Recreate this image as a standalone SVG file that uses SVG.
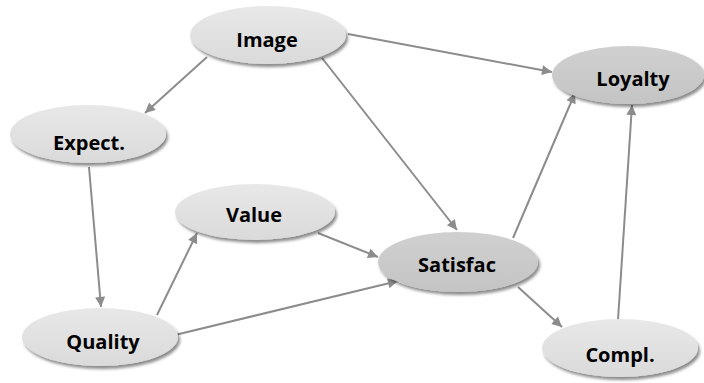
<svg xmlns="http://www.w3.org/2000/svg" width="704" height="383" viewBox="0 0 704 383">
<style>
.light{fill:url(#gl)}
.dark{fill:url(#gd)}
.node ellipse{filter:url(#sh)}
.node text{font-family:"Open Sans","Liberation Sans",Arial,sans-serif;font-weight:bold;font-size:20px;fill:#000;text-anchor:middle;dominant-baseline:central}
.edge{stroke:#8c8c8c;stroke-width:2;fill:none;marker-end:url(#ah)}
</style>
<defs>
<linearGradient id="gl" x1="0" y1="0" x2="0" y2="1">
<stop offset="0" stop-color="#e8e8e8"/><stop offset="1" stop-color="#dadada"/>
</linearGradient>
<linearGradient id="gd" x1="0" y1="0" x2="0" y2="1">
<stop offset="0" stop-color="#d0d0d0"/><stop offset="1" stop-color="#c4c4c4"/>
</linearGradient>
<filter id="sh" x="-20%" y="-30%" width="140%" height="170%">
<feDropShadow dx="2" dy="3" stdDeviation="1.8" flood-color="#000" flood-opacity="0.45"/>
</filter>
<marker id="ah" viewBox="0 0 10 10" refX="10" refY="5" markerWidth="6" markerHeight="5" markerUnits="strokeWidth" orient="auto">
<path d="M0,0 L10,5 L0,10 z" fill="#8c8c8c"/>
</marker>
</defs>
<g id="connectors">
<line class="edge" x1="207" y1="57" x2="145" y2="113"/>
<line class="edge" x1="348" y1="34" x2="552" y2="72"/>
<line class="edge" x1="322" y1="58" x2="457" y2="230"/>
<line class="edge" x1="89" y1="167" x2="101" y2="307"/>
<line class="edge" x1="157" y1="315" x2="197" y2="233"/>
<line class="edge" x1="175" y1="335" x2="398" y2="281"/>
<line class="edge" x1="318" y1="233" x2="378" y2="257"/>
<line class="edge" x1="513" y1="238" x2="575" y2="93"/>
<line class="edge" x1="518" y1="287" x2="562" y2="327"/>
<line class="edge" x1="618" y1="320" x2="632" y2="105"/>
</g>
<g id="node-image" class="node"><ellipse class="light" cx="268" cy="35" rx="78" ry="29"/><text x="267" y="39">Image</text></g>
<g id="node-loyalty" class="node"><ellipse class="dark" cx="628" cy="75" rx="76" ry="29"/><text x="633" y="78">Loyalty</text></g>
<g id="node-expect" class="node"><ellipse class="light" cx="88" cy="134" rx="78" ry="29"/><text x="89" y="142">Expect.</text></g>
<g id="node-value" class="node"><ellipse class="light" cx="255" cy="212" rx="80" ry="28"/><text x="254" y="214">Value</text></g>
<g id="node-satisfac" class="node"><ellipse class="dark" cx="458" cy="262" rx="80" ry="30"/><text x="457" y="264">Satisfac</text></g>
<g id="node-quality" class="node"><ellipse class="light" cx="100" cy="337" rx="78" ry="29"/><text x="103" y="341">Quality</text></g>
<g id="node-compl" class="node"><ellipse class="light" cx="620" cy="348" rx="78" ry="29"/><text x="620" y="354">Compl.</text></g>
</svg>
